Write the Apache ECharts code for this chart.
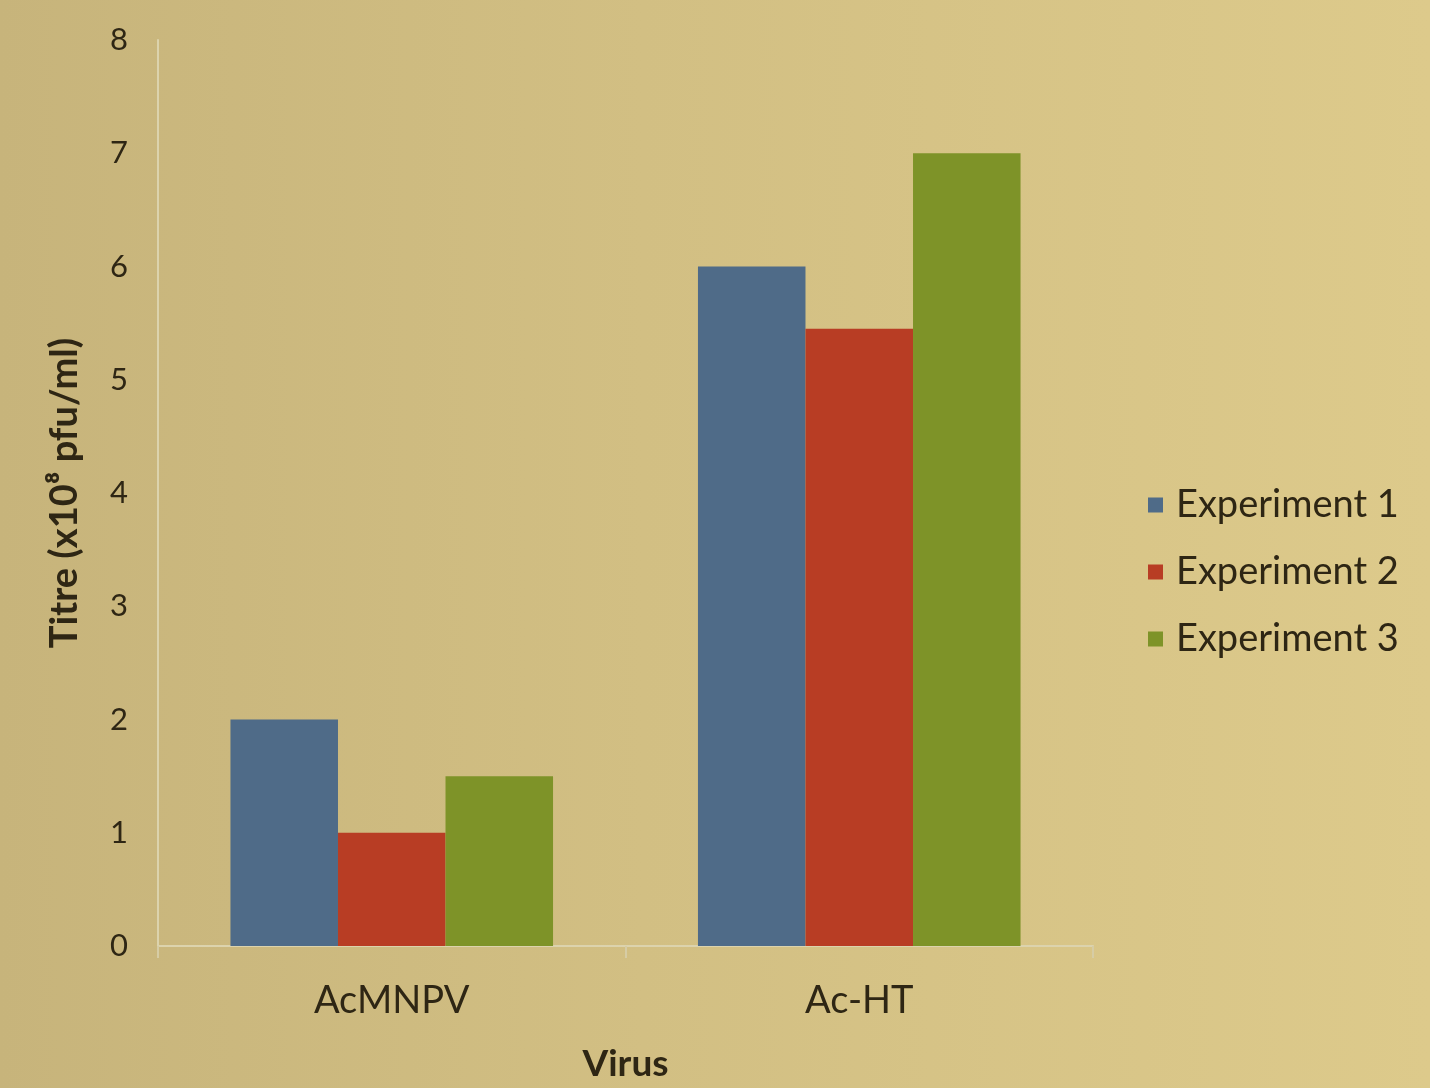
<!DOCTYPE html>
<html>
<head>
<meta charset="utf-8">
<script src="https://cdn.jsdelivr.net/npm/echarts@6/dist/echarts.min.js"></script>
<style>
  html, body { margin: 0; padding: 0; width: 1430px; height: 1088px; overflow: hidden; }
  body { background: linear-gradient(90deg, #c7b47b 0%, #d2bf83 45%, #ddca8b 100%); }
  #chart { width: 1430px; height: 1088px; }
</style>
</head>
<body>
<div id="chart"></div>
<script>
// Virus titres per experiment
const viruses = ['AcMNPV', 'Ac-HT'];
const experiment1 = [2.0, 6.0];
const experiment2 = [1.0, 5.45];
const experiment3 = [1.5, 7.0];
const seriesNames = ['Experiment 1', 'Experiment 2', 'Experiment 3'];
const seriesColors = ['#4f6b88', '#b83d24', '#7e9328'];

const textColor = '#2e2614';
const font = 'Lato, "Open Sans", sans-serif';

const chart = echarts.init(document.getElementById('chart'), null, { renderer: 'canvas' });

const values = [experiment1, experiment2, experiment3];

chart.setOption({
  backgroundColor: 'transparent',
  animation: false,
  grid: { left: 158, right: 337, top: 40, bottom: 140 },
  legend: {
    orient: 'vertical',
    left: 1143,
    top: 480,
    itemWidth: 15,
    itemHeight: 15,
    itemGap: 27,
    icon: 'rect',
    data: seriesNames,
    textStyle: { color: textColor, fontSize: 38, lineHeight: 40, fontFamily: font, padding: [0, 0, 0, 8] }
  },
  xAxis: {
    type: 'category',
    data: viruses,
    name: 'Virus',
    nameLocation: 'middle',
    nameGap: 100,
    nameTextStyle: { color: textColor, fontSize: 37, fontWeight: 'bold', fontFamily: font },
    axisLine: { lineStyle: { color: '#dcd3ad', width: 2 } },
    axisTick: { show: true, length: 12, lineStyle: { color: '#d6cca5', width: 2 } },
    axisLabel: { color: textColor, fontSize: 38, fontFamily: font, margin: 36 }
  },
  yAxis: {
    type: 'value',
    min: 0,
    max: 8,
    interval: 1,
    name: 'Titre (x10\u2078 pfu/ml)',
    nameLocation: 'middle',
    nameGap: 74,
    nameRotate: 90,
    nameTextStyle: { color: textColor, fontSize: 38, fontWeight: 'bold', fontFamily: font },
    axisLine: { show: true, lineStyle: { color: '#dcd3ad', width: 2 } },
    axisTick: { show: false },
    splitLine: { show: false },
    axisLabel: { color: textColor, fontSize: 31, fontFamily: font, margin: 30 }
  },
  series: seriesNames.map((name, i) => ({
    name,
    type: 'bar',
    data: values[i],
    barGap: '0%',
    barCategoryGap: '31%',
    itemStyle: { color: seriesColors[i] }
  }))
});
</script>
</body>
</html>
